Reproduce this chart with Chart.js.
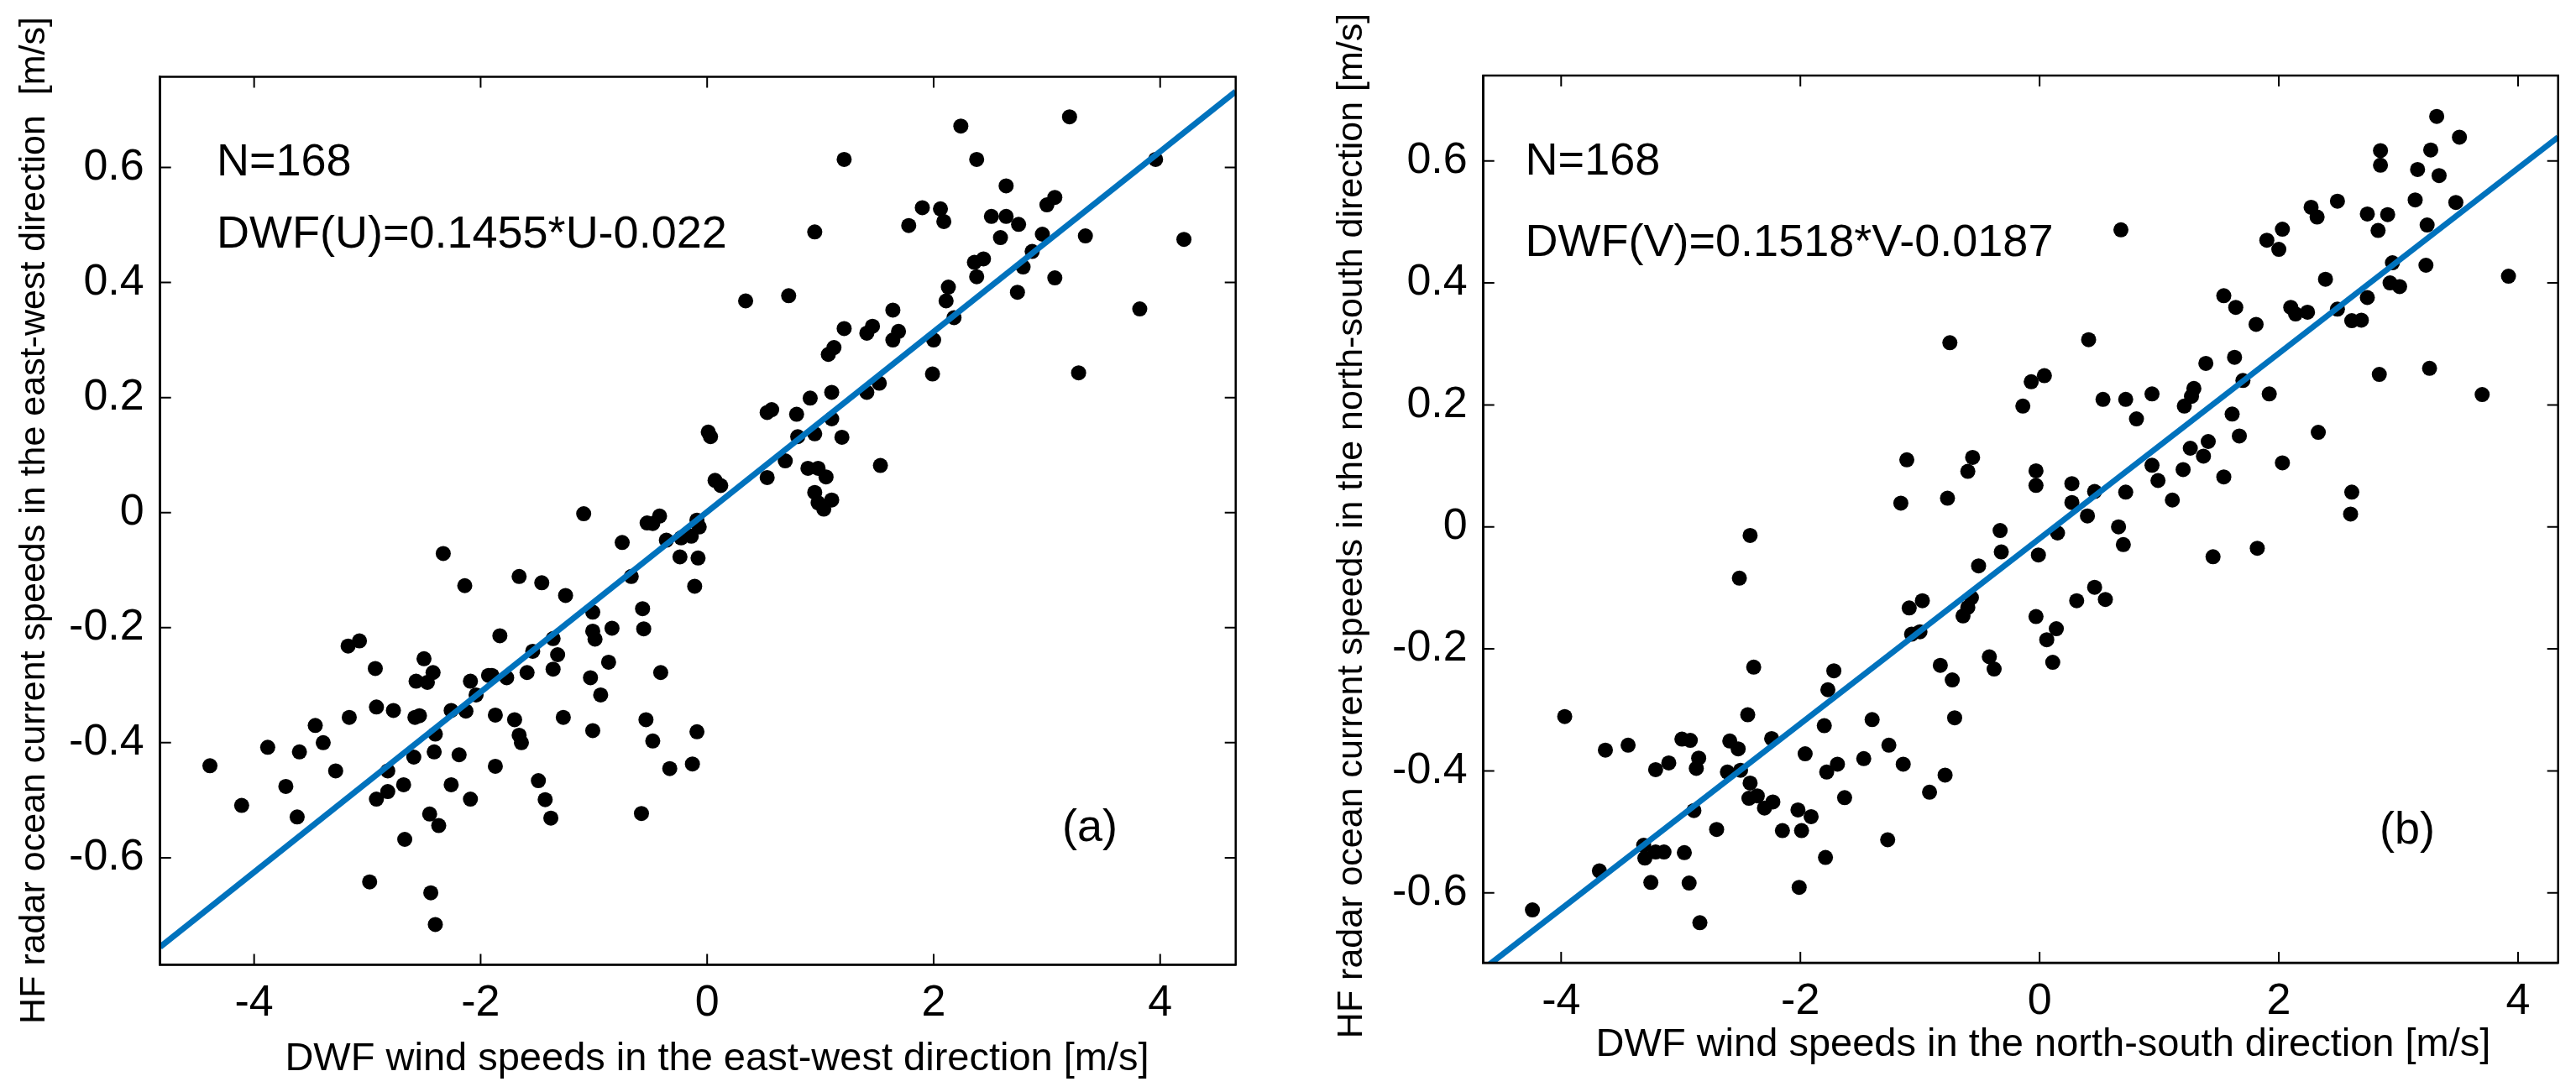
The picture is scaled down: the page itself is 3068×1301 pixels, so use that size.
<!DOCTYPE html>
<html><head><meta charset="utf-8">
<script src="https://cdn.jsdelivr.net/npm/chart.js@4.4.1/dist/chart.umd.min.js"></script>
<style>
html,body{margin:0;padding:0;background:#fff;}
body{width:3068px;height:1301px;position:relative;overflow:hidden;}
.panel{position:absolute;top:0;width:1534px;height:1301px;}
canvas{display:block;}
</style></head><body>
<div class="panel" style="left:0"><canvas id="ca" width="1534" height="1301"></canvas></div>
<div class="panel" style="left:1534px"><canvas id="cb" width="1534" height="1301"></canvas></div>
<script>
// ---------- Panel (a) data: east-west ----------
const aU = [3.20,2.24,1.21,2.38,3.96,2.64,3.07,3.00,1.90,2.06,2.09,1.78,2.51,2.64,2.75,2.59,2.96,3.34,4.21,0.95,2.87,2.44,2.36,2.79,2.13,2.38,3.07,2.74,3.82,2.11,0.34,0.72,2.18,1.64,1.21,1.46,1.41,1.69,1.64,2.00,1.12,1.07,1.99,3.28,1.52,1.41,1.10,0.91,0.53,0.57,0.79,1.10,0.01,0.03,0.95,0.80,1.19,0.69,0.53,1.53,0.89,0.98,1.05,0.07,0.12,0.95,0.98,1.10,1.03,
-1.09,-0.42,-0.53,-0.48,-0.09,-0.07,-0.14,-0.23,-0.36,-0.75,-0.08,-0.24,-2.33,-0.67,-1.66,-1.46,-2.14,-0.11,-1.25,-0.57,-1.01,-0.56,-0.84,-1.01,-0.99,-1.83,-1.36,-1.54,-1.32,-0.87,-3.17,-3.07,-2.50,-2.93,-1.36,-1.59,-2.42,-2.57,-2.47,-2.09,-1.93,-1.77,-1.90,-1.03,-0.41,-2.04,-0.94,-2.92,-2.77,-3.16,-2.26,-2.13,-2.54,-2.58,-1.87,-1.70,-1.27,-0.54,-3.46,-3.39,-2.40,-1.66,-1.64,-1.01,-0.09,-0.48,-3.88,-3.60,-2.41,-2.19,-2.59,-4.39,-3.28,-2.82,-1.87,-0.33,-0.13,-1.49,-3.72,-2.68,-2.26,-2.82,-2.92,-2.09,-1.43,-4.11,-3.62,-2.45,-1.38,-0.58,-2.37,-2.67,-2.98,-2.44,-2.40];
const aV = [0.688,0.672,0.614,0.614,0.614,0.568,0.548,0.535,0.530,0.528,0.506,0.499,0.515,0.515,0.501,0.478,0.484,0.481,0.475,0.488,0.454,0.441,0.435,0.427,0.392,0.410,0.408,0.383,0.354,0.368,0.368,0.377,0.339,0.352,0.320,0.324,0.312,0.315,0.300,0.300,0.287,0.275,0.241,0.243,0.225,0.209,0.209,0.199,0.174,0.179,0.171,0.163,0.140,0.132,0.137,0.132,0.131,0.090,0.061,0.082,0.077,0.077,0.062,0.056,0.047,0.035,0.017,0.022,0.006,
-0.002,-0.006,-0.018,-0.019,-0.013,-0.025,-0.041,-0.044,-0.048,-0.052,-0.079,-0.077,-0.071,-0.111,-0.111,-0.122,-0.127,-0.128,-0.144,-0.167,-0.173,-0.202,-0.201,-0.206,-0.220,-0.214,-0.219,-0.241,-0.247,-0.260,-0.232,-0.223,-0.254,-0.271,-0.272,-0.278,-0.278,-0.293,-0.295,-0.293,-0.283,-0.287,-0.283,-0.287,-0.278,-0.317,-0.317,-0.338,-0.344,-0.356,-0.344,-0.345,-0.353,-0.356,-0.352,-0.360,-0.356,-0.360,-0.370,-0.400,-0.385,-0.387,-0.400,-0.379,-0.381,-0.397,-0.408,-0.416,-0.416,-0.421,-0.425,-0.440,-0.449,-0.449,-0.441,-0.445,-0.437,-0.466,-0.476,-0.473,-0.473,-0.485,-0.498,-0.498,-0.499,-0.509,-0.529,-0.524,-0.531,-0.523,-0.544,-0.568,-0.642,-0.661,-0.716];
const aFitU = [-4.83, 4.667];
const aFitV = [-0.755, 0.732];

// ---------- Panel (b) data: north-south ----------
const bU = [3.32,3.51,2.85,3.27,2.85,3.16,3.34,2.49,3.14,3.48,2.27,2.32,2.74,2.91,3.24,2.83,0.68,2.03,1.90,2.00,2.95,3.23,3.92,2.39,3.01,2.93,2.74,1.54,1.64,2.10,2.14,2.24,2.49,2.61,2.69,1.81,-0.75,0.41,1.39,1.63,2.84,3.26,-0.07,0.04,1.70,1.29,1.27,0.53,0.72,0.94,3.70,1.92,1.21,-0.14,0.81,1.61,1.67,2.33,1.41,1.26,1.37,-1.11,-0.56,-0.60,-0.03,0.94,2.03,1.20,0.99,1.54,-0.03,0.27,0.46,0.72,2.61,1.11,-1.16,-0.77,0.27,0.40,2.60,0.66,-0.33,0.15,-2.42,0.70,-0.32,-0.01,1.45,1.82,-0.51,-2.51,0.46,0.31,0.55,-0.57,-0.60,-1.09,-0.64,-0.98,-0.03,0.14,0.06,-1.07,-1.00,0.11,-0.42,-0.38,-0.83,-0.73,-2.39,-1.72,-1.77,-3.97,-2.44,-0.71,-1.40,-1.80,-2.99,-2.92,-3.44,-3.63,-2.59,-2.52,-2.24,-1.26,-1.47,-1.14,-1.96,-1.69,-2.85,-3.10,-3.21,-2.87,-2.61,-2.50,-1.78,-0.79,-2.42,-0.92,-1.63,-2.43,-2.36,-2.23,-2.30,-2.02,-1.91,-2.89,-2.70,-2.15,-1.99,-1.27,-1.79,-3.31,-3.21,-3.30,-3.14,-2.97,-3.68,-3.25,-2.93,-2.01,-4.24,-2.84];
const bV = [0.673,0.639,0.617,0.618,0.593,0.586,0.576,0.534,0.536,0.532,0.524,0.508,0.513,0.512,0.495,0.486,0.487,0.488,0.470,0.455,0.433,0.429,0.411,0.406,0.394,0.400,0.376,0.379,0.360,0.360,0.349,0.352,0.357,0.338,0.339,0.332,0.302,0.307,0.268,0.278,0.250,0.260,0.238,0.248,0.240,0.227,0.214,0.209,0.209,0.218,0.217,0.218,0.198,0.198,0.177,0.185,0.149,0.155,0.140,0.129,0.116,0.110,0.114,0.091,0.092,0.101,0.105,0.094,0.076,0.082,0.068,0.071,0.058,0.057,0.057,0.044,0.039,0.047,0.040,0.018,0.021,0.000,-0.006,-0.010,-0.014,-0.029,-0.041,-0.046,-0.049,-0.035,-0.064,-0.084,-0.099,-0.121,-0.119,-0.116,-0.132,-0.133,-0.146,-0.121,-0.147,-0.167,-0.185,-0.176,-0.172,-0.222,-0.213,-0.233,-0.227,-0.251,-0.230,-0.236,-0.267,-0.311,-0.308,-0.313,-0.316,-0.326,-0.348,-0.350,-0.358,-0.366,-0.351,-0.364,-0.347,-0.358,-0.380,-0.389,-0.372,-0.389,-0.379,-0.387,-0.398,-0.396,-0.402,-0.399,-0.402,-0.407,-0.420,-0.435,-0.444,-0.445,-0.441,-0.451,-0.461,-0.464,-0.475,-0.465,-0.496,-0.498,-0.498,-0.513,-0.542,-0.522,-0.533,-0.543,-0.533,-0.534,-0.564,-0.583,-0.584,-0.591,-0.628,-0.649];
const bFitU = [-4.65, 4.335];
const bFitV = [-0.725, 0.639];

// ---------- Tick values ----------
const xTickStep = 2;
const yTickStep = 0.2;

const FONT = '"Liberation Sans", Arial, Helvetica, sans-serif';
const toPts = (xs, ys) => xs.map((x, i) => ({x: x, y: ys[i]}));
const fmt = v => String(Math.round(v * 10) / 10);

const deco = {
  id: 'deco',
  afterDraw(chart, args, opts) {
    const {ctx, chartArea: ca, scales: {x, y}} = chart;
    ctx.save();
    ctx.strokeStyle = '#000';
    ctx.lineWidth = 2.5;
    ctx.strokeRect(ca.left, ca.top, ca.right - ca.left, ca.bottom - ca.top);
    const tl = 13;
    ctx.lineWidth = 2;
    ctx.beginPath();
    x.ticks.forEach(t => {
      const px = x.getPixelForValue(t.value);
      ctx.moveTo(px, ca.bottom); ctx.lineTo(px, ca.bottom - tl);
      ctx.moveTo(px, ca.top); ctx.lineTo(px, ca.top + tl);
    });
    y.ticks.forEach(t => {
      const py = y.getPixelForValue(t.value);
      ctx.moveTo(ca.left, py); ctx.lineTo(ca.left + tl, py);
      ctx.moveTo(ca.right, py); ctx.lineTo(ca.right - tl, py);
    });
    ctx.stroke();
    ctx.fillStyle = '#000';
    ctx.textBaseline = 'alphabetic';
    (opts.texts || []).forEach(t => {
      ctx.font = t.size + 'px ' + FONT;
      ctx.textAlign = 'left';
      ctx.fillText(t.t, t.x, t.y);
    });
    if (opts.xtitle) {
      const t = opts.xtitle;
      ctx.font = t.size + 'px ' + FONT;
      ctx.textAlign = 'center';
      ctx.fillText(t.t, t.x, t.y);
    }
    if (opts.ytitle) {
      const t = opts.ytitle;
      ctx.font = t.size + 'px ' + FONT;
      ctx.textAlign = 'center';
      ctx.translate(t.x, t.y);
      ctx.rotate(-Math.PI / 2);
      ctx.fillText(t.t, 0, 0);
    }
    ctx.restore();
  }
};

function makeChart(id, pts, fit, lim, box, deco_opts) {
  return new Chart(document.getElementById(id), {
    type: 'scatter',
    data: {
      datasets: [
        {data: fit, showLine: true, borderColor: '#0072BD', borderWidth: 7, pointRadius: 0, order: 0},
        {data: pts, backgroundColor: '#000', borderWidth: 0, pointRadius: 9, pointHoverRadius: 9, order: 1}
      ]
    },
    options: {
      responsive: false,
      animation: false,
      events: [],
      layout: {padding: {left: 0, top: box.top, right: box.right, bottom: 0}},
      plugins: {legend: {display: false}, tooltip: {enabled: false}, deco: deco_opts},
      scales: {
        x: {
          type: 'linear', min: lim.xmin, max: lim.xmax,
          grid: {display: false, drawTicks: false},
          border: {display: true, color: '#000', width: 2.5},
          ticks: {stepSize: xTickStep, includeBounds: false, padding: box.xpad, color: '#000',
                  font: {family: FONT, size: 52}, callback: fmt, maxRotation: 0},
          afterFit(s) { s.height = box.xh; }
        },
        y: {
          type: 'linear', min: lim.ymin, max: lim.ymax,
          grid: {display: false, drawTicks: false},
          border: {display: true, color: '#000', width: 2.5},
          ticks: {stepSize: yTickStep, includeBounds: false, padding: 19, color: '#000',
                  font: {family: FONT, size: 52}, callback: fmt},
          afterFit(s) { s.width = box.yw; }
        }
      }
    },
    plugins: [deco]
  });
}

makeChart('ca', toPts(aU, aV), toPts(aFitU, aFitV),
  {xmin: -4.83, xmax: 4.667, ymin: -0.786, ymax: 0.7576},
  {top: 91.5, right: 62.3, xh: 151.6, yw: 190.7, xpad: 15},
  {texts: [{t: 'N=168', x: 258, y: 209, size: 54},
           {t: 'DWF(U)=0.1455*U-0.022', x: 258, y: 295, size: 54},
           {t: '(a)', x: 1265, y: 1002, size: 54}],
   xtitle: {t: 'DWF wind speeds in the east-west direction [m/s]', x: 854, y: 1275, size: 47},
   ytitle: {t: 'HF radar ocean current speeds in the east-west direction  [m/s]', x: 53, y: 620, size: 43}});

makeChart('cb', toPts(bU, bV), toPts(bFitU, bFitV),
  {xmin: -4.65, xmax: 4.335, ymin: -0.7146, ymax: 0.740},
  {top: 90, right: 21.3, xh: 154, yw: 232.7, xpad: 15},
  {texts: [{t: 'N=168', x: 282.6, y: 208, size: 54},
           {t: 'DWF(V)=0.1518*V-0.0187', x: 282.6, y: 305, size: 54},
           {t: '(b)', x: 1300, y: 1005, size: 54}],
   xtitle: {t: 'DWF wind speeds in the north-south direction [m/s]', x: 899.5, y: 1258, size: 47},
   ytitle: {t: 'HF radar ocean current speeds in the north-south direction [m/s]', x: 87.7, y: 626.5, size: 43}});
</script>
</body></html>
